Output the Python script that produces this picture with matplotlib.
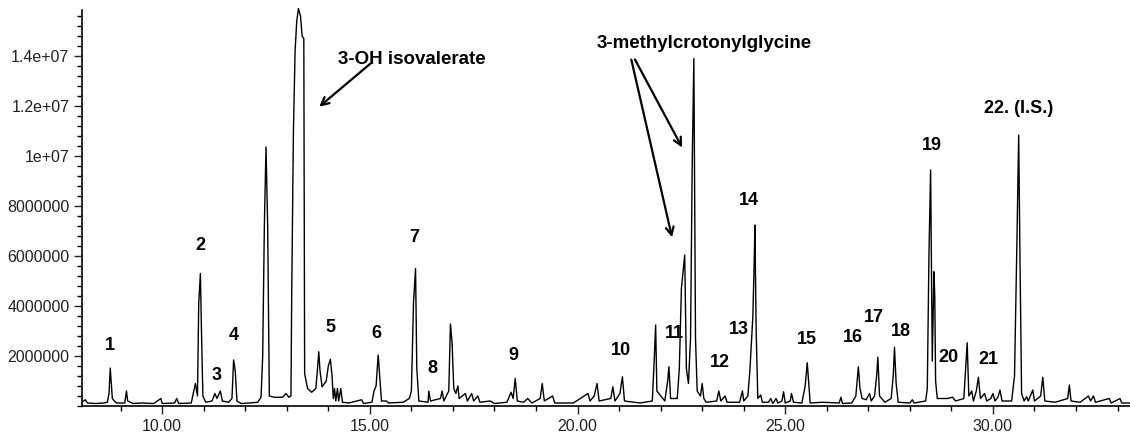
import numpy as np
import matplotlib
matplotlib.use("Agg")
import matplotlib.pyplot as plt
from matplotlib.ticker import FixedLocator, MultipleLocator

plt.rcParams['font.family'] = ['Liberation Sans', 'DejaVu Sans']

# Chromatogram trace: retention time (min), abundance (millions)
rt = [8.07, 8.15, 8.2, 8.4, 8.6, 8.68, 8.72, 8.75, 8.78, 8.8, 8.85, 8.9, 9.1, 9.14, 9.17,
      9.3, 9.5, 9.8, 9.97, 10.0, 10.3, 10.35, 10.4, 10.7, 10.75, 10.8, 10.85, 10.88, 10.92,
      10.95, 10.98, 11.05, 11.2, 11.27, 11.32, 11.4, 11.45, 11.6, 11.68, 11.72, 11.76, 11.8,
      11.9, 12.1, 12.3, 12.38, 12.42, 12.46, 12.5, 12.54, 12.58, 12.7, 12.9, 12.98, 13.05,
      13.1, 13.12, 13.16, 13.2, 13.24, 13.28, 13.33, 13.37, 13.41, 13.43, 13.5, 13.6, 13.7,
      13.74, 13.77, 13.8, 13.85, 13.95, 14.0, 14.05, 14.09, 14.12, 14.15, 14.18, 14.22, 14.25,
      14.3, 14.34, 14.5, 14.8, 14.85, 15.05, 15.1, 15.15, 15.2, 15.24, 15.28, 15.4, 15.45,
      15.8, 15.95, 16.0, 16.05, 16.1, 16.13, 16.18, 16.4, 16.42, 16.46, 16.7, 16.74, 16.78,
      16.9, 16.94, 16.98, 17.02, 17.07, 17.12, 17.15, 17.3, 17.35, 17.45, 17.5, 17.6, 17.65,
      17.9, 18.0, 18.3, 18.4, 18.45, 18.5, 18.55, 18.7, 18.8, 18.9, 19.1, 19.15, 19.2, 19.4,
      19.45, 19.9, 20.25, 20.3, 20.4, 20.47, 20.52, 20.8, 20.85, 20.9, 21.02, 21.08, 21.13,
      21.5, 21.8, 21.85, 21.88, 21.91, 22.1, 22.17, 22.2, 22.24, 22.4, 22.45, 22.5, 22.58,
      22.62, 22.67, 22.72, 22.76, 22.8, 22.84, 22.88, 22.96, 23.0, 23.04, 23.1, 23.35, 23.4,
      23.45, 23.55, 23.6, 23.9, 23.97, 24.0, 24.1, 24.15, 24.22, 24.25, 24.27, 24.3, 24.34,
      24.41, 24.45, 24.6, 24.65, 24.7, 24.78, 24.82, 24.92, 24.96, 25.0, 25.12, 25.15, 25.2,
      25.4, 25.48, 25.53, 25.57, 25.6, 25.9, 26.3, 26.34, 26.38, 26.6, 26.7, 26.76, 26.8,
      26.85, 26.95, 27.03, 27.07, 27.15, 27.2, 27.23, 27.27, 27.4, 27.55, 27.6, 27.63, 27.67,
      27.72, 28.0, 28.06, 28.1, 28.38, 28.42, 28.46, 28.5, 28.54, 28.58, 28.6, 28.62, 28.66,
      28.9, 29.03, 29.1, 29.3, 29.34, 29.38, 29.42, 29.49, 29.53, 29.6, 29.65, 29.7, 29.8,
      29.85, 29.95, 30.0, 30.05, 30.12, 30.17, 30.22, 30.45, 30.52, 30.58, 30.62, 30.65,
      30.69, 30.75, 30.81, 30.85, 30.96, 31.0, 31.15, 31.2, 31.25, 31.5, 31.8, 31.84, 31.88,
      32.1, 32.3, 32.35, 32.42, 32.47, 32.8, 32.85, 33.06, 33.1, 33.3]
abund = [0.15, 0.25, 0.12, 0.1, 0.12, 0.15, 0.5, 1.52, 0.8, 0.3, 0.2, 0.12, 0.12, 0.6, 0.2,
         0.1, 0.12, 0.1, 0.3, 0.1, 0.12, 0.3, 0.1, 0.12, 0.5, 0.9, 0.4, 4.1, 5.3,
         2.7, 0.4, 0.15, 0.2, 0.5, 0.3, 0.6, 0.2, 0.15, 0.3, 1.84, 1.4, 0.2,
         0.1, 0.12, 0.15, 0.35, 2.0, 7.2, 10.36, 7.2, 0.4, 0.35, 0.35, 0.5, 0.35,
         0.4, 4.7, 11.0, 14.2, 15.4, 15.9, 15.6, 14.8, 14.7, 1.3, 0.7, 0.55, 0.7,
         1.5, 2.17, 1.4, 0.77, 1.0, 1.6, 1.87, 1.2, 0.3, 0.7, 0.2, 0.7, 0.2,
         0.7, 0.15, 0.12, 0.25, 0.1, 0.15, 0.6, 0.8, 2.04, 1.1, 0.2, 0.2, 0.12,
         0.15, 0.3, 0.6, 4.1, 5.5, 1.5, 0.2, 0.15, 0.6, 0.2, 0.3, 0.6, 0.2,
         0.6, 3.28, 2.5, 0.7, 0.5, 0.8, 0.3, 0.5, 0.2, 0.5, 0.2, 0.4, 0.15,
         0.2, 0.1, 0.15, 0.55, 0.3, 1.1, 0.2, 0.15, 0.3, 0.12, 0.3, 0.9, 0.2, 0.4,
         0.12, 0.12, 0.5, 0.2, 0.4, 0.9, 0.2, 0.3, 0.77, 0.2, 0.5, 1.17, 0.2,
         0.12, 0.2, 2.0, 3.24, 0.6, 0.2, 1.0, 1.57, 0.3, 0.3, 1.5, 4.7, 6.04,
         1.5, 0.9, 2.7, 9.6, 13.9, 2.7, 0.6, 0.4, 0.9, 0.3, 0.15, 0.2, 0.6,
         0.2, 0.4, 0.15, 0.15, 0.6, 0.2, 0.4, 1.44, 3.57, 5.57, 7.24, 3.0, 0.3,
         0.44, 0.15, 0.15, 0.3, 0.1, 0.3, 0.12, 0.2, 0.57, 0.12, 0.2, 0.5, 0.15,
         0.12, 0.8, 1.73, 0.8, 0.12, 0.15, 0.12, 0.35, 0.1, 0.12, 0.4, 1.57, 0.7,
         0.3, 0.25, 0.5, 0.2, 0.4, 1.2, 1.95, 0.4, 0.15, 0.3, 1.2, 2.35, 0.9,
         0.15, 0.12, 0.25, 0.12, 0.2, 0.7, 6.04, 9.44, 1.8, 5.37, 4.4, 1.0, 0.3,
         0.3, 0.35, 0.2, 0.3, 1.4, 2.53, 0.4, 0.6, 0.2, 0.6, 1.15, 0.3, 0.5,
         0.2, 0.3, 0.5, 0.2, 0.35, 0.64, 0.2, 0.2, 1.2, 6.8, 10.84, 6.1,
         0.5, 0.2, 0.37, 0.2, 0.64, 0.2, 0.4, 1.15, 0.2, 0.15, 0.3, 0.84, 0.2,
         0.15, 0.4, 0.2, 0.4, 0.15, 0.3, 0.12, 0.3, 0.12, 0.12]

# Peak number labels: text, retention time, label height (millions)
peak_labels = ["1", "2", "3", "4", "5", "6", "7", "8", "9", "10", "11", "12", "13", "14",
               "15", "16", "17", "18", "19", "20", "21", "22. (I.S.)"]
label_rt = [8.75, 10.92, 11.3, 11.73, 14.05, 15.16, 16.07, 16.5, 18.46, 21.04, 22.34, 23.42,
            23.88, 24.12, 25.52, 26.63, 27.13, 27.78, 28.53, 28.94, 29.9, 30.63]
label_y = [2.44, 6.44, 1.24, 2.84, 3.12, 2.92, 6.76, 1.52, 2.04, 2.24, 2.92, 1.76,
           3.04, 8.24, 2.64, 2.76, 3.52, 3.0, 10.4, 1.96, 1.88, 11.9]

ytick_vals = [2e6, 4e6, 6e6, 8e6, 1e7, 1.2e7, 1.4e7]
ytick_text = ["2000000", "4000000", "6000000", "8000000", "1e+07", "1.2e+07", "1.4e+07"]
xtick_vals = [10, 15, 20, 25, 30]
xtick_text = ["10.00", "15.00", "20.00", "25.00", "30.00"]

fig = plt.figure(figsize=(11.3, 4.36), dpi=100)
ax = fig.add_axes([82 / 1130, 30 / 436, 1 - 82 / 1130, 396 / 436])

ax.plot(rt, np.array(abund) * 1e6, color="black", lw=1.0, clip_on=False)

ax.set_xlim(8.07, 33.3)
ax.set_ylim(0, 1.584e7)

ax.spines["top"].set_visible(False)
ax.spines["right"].set_visible(False)
ax.spines["left"].set_linewidth(1.2)
ax.spines["bottom"].set_linewidth(1.2)

ax.yaxis.set_major_locator(FixedLocator(ytick_vals))
ax.set_yticklabels(ytick_text)
ax.yaxis.set_minor_locator(MultipleLocator(4e5))
ax.xaxis.set_major_locator(FixedLocator(xtick_vals))
ax.set_xticklabels(xtick_text)
ax.xaxis.set_minor_locator(MultipleLocator(1))
ax.tick_params(axis="both", which="major", length=6, width=1, labelsize=11.5,
               colors="#222222", pad=3)
ax.tick_params(axis="both", which="minor", length=3.5, width=1)

for txt, x, y in zip(peak_labels, label_rt, label_y):
    ax.text(x, y * 1e6, txt, ha="center", va="center", fontsize=13, fontweight="bold")

ax.text(16.02, 1.388e7, "3-OH isovalerate", ha="center", va="center",
        fontsize=13.5, fontweight="bold")
ax.annotate("", xy=(13.73, 1.19e7), xytext=(15.06, 1.376e7),
            arrowprops=dict(arrowstyle="->", lw=1.6, color="black",
                            mutation_scale=14))

ax.text(23.06, 1.448e7, "3-methylcrotonylglycine", ha="center", va="center",
        fontsize=13.5, fontweight="bold")
ax.annotate("", xy=(22.55, 1.024e7), xytext=(21.35, 1.396e7),
            arrowprops=dict(arrowstyle="->", lw=1.6, color="black",
                            mutation_scale=14))
ax.annotate("", xy=(22.29, 6.64e6), xytext=(21.28, 1.396e7),
            arrowprops=dict(arrowstyle="->", lw=1.6, color="black",
                            mutation_scale=14))

fig.savefig("out.png", dpi=100)
